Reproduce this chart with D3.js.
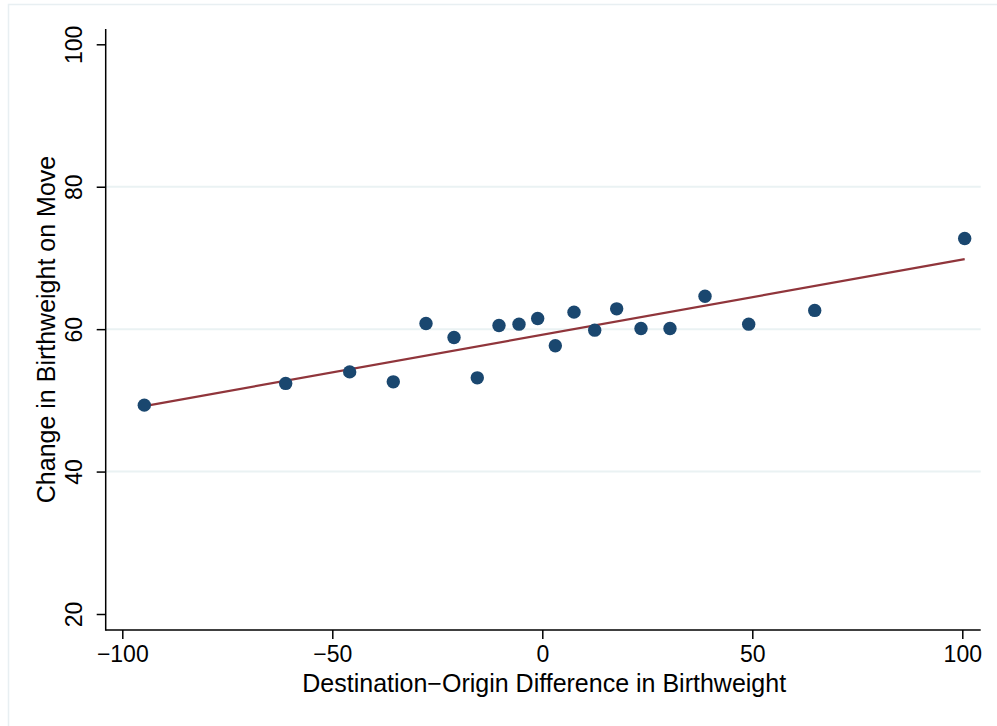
<!DOCTYPE html>
<html>
<head>
<meta charset="utf-8">
<script src="https://cdn.jsdelivr.net/npm/d3@7"></script>
<style>
  html, body { margin: 0; padding: 0; background: #fff; }
  svg { display: block; }
  text { font-family: "Liberation Sans", Arial, Helvetica, sans-serif; fill: #000; }
</style>
</head>
<body>
<svg id="chart" width="997" height="726"></svg>
<script>
// Binned scatter: destination−origin difference vs. change on move
const diffValues = [-94.76, -61.10, -45.86, -35.48, -27.69, -21.02, -15.48, -10.31, -5.55, -1.10,
                    3.10, 7.55, 12.48, 17.71, 23.50, 30.40, 38.74, 49.14, 64.86, 100.57];
const changeValues = [49.33, 52.38, 54.00, 52.60, 60.80, 58.83, 53.16, 60.52, 60.70, 61.50,
                      57.66, 62.39, 59.86, 62.85, 60.10, 60.10, 64.63, 60.70, 62.63, 72.73];
// linear fit estimated on the underlying (unbinned) observations
const fitIntercept = 59.21;
const fitSlope = 0.1057;
const xTicks = [-100, -50, 0, 50, 100];
const yTicks = [20, 40, 60, 80, 100];
const xTitle = "Destination\u2212Origin Difference in Birthweight";
const yTitle = "Change in Birthweight on Move";

const points = diffValues.map((d, i) => ({ x: d, y: changeValues[i] }));

// fit line drawn across the observed range of the bins
const [xMin, xMax] = d3.extent(diffValues);
const fitLine = [xMin, xMax].map(v => ({ x: v, y: fitIntercept + fitSlope * v }));

const svg = d3.select("#chart");

// faint outer frame of the graph region
svg.append("path")
  .attr("d", "M8.5,730 V4.5 H1000")
  .attr("fill", "none").attr("stroke", "#e8eff2").attr("stroke-width", 1.5);

const x = d3.scaleLinear().domain([-100, 100]).range([122.3, 962.3]);
const y = d3.scaleLinear().domain([20, 100]).range([614, 44.3]);

const plotLeft = 105.7, plotRight = 980.7, plotTop = 29, plotBottom = 630;

// horizontal gridlines
svg.append("g").selectAll("line")
  .data(yTicks.filter(t => t !== 20 && t !== 100))
  .join("line")
  .attr("x1", plotLeft).attr("x2", plotRight)
  .attr("y1", d => y(d)).attr("y2", d => y(d))
  .attr("stroke", "#eaf2f3").attr("stroke-width", 2);

// axes
const xAxis = d3.axisBottom(x).tickValues(xTicks).tickSize(9).tickSizeOuter(0)
  .tickFormat(d => d < 0 ? "\u2212" + Math.abs(d) : String(d));
const gx = svg.append("g").attr("transform", `translate(0,${plotBottom})`).call(xAxis);
gx.select(".domain").remove();
gx.selectAll(".tick line").attr("stroke", "#000").attr("stroke-width", 1.5);
gx.selectAll(".tick text").attr("y", 32).attr("dy", 0)
  .style("font-size", "23px").attr("font-family", null);

const yAxis = d3.axisLeft(y).tickValues(yTicks).tickSize(9).tickSizeOuter(0);
const gy = svg.append("g").attr("transform", `translate(${plotLeft},0)`).call(yAxis);
gy.select(".domain").remove();
gy.selectAll(".tick line").attr("stroke", "#000").attr("stroke-width", 1.5);
gy.selectAll(".tick text")
  .attr("x", null).attr("dy", null)
  .attr("transform", "translate(-24,0) rotate(-90)")
  .attr("text-anchor", "middle")
  .attr("y", 0)
  .style("font-size", "23px").attr("font-family", null);

svg.append("line")
  .attr("x1", plotLeft).attr("x2", plotRight)
  .attr("y1", plotBottom).attr("y2", plotBottom)
  .attr("stroke", "#000").attr("stroke-width", 1.5);
svg.append("line")
  .attr("x1", plotLeft).attr("x2", plotLeft)
  .attr("y1", plotTop).attr("y2", plotBottom + 0.75)
  .attr("stroke", "#000").attr("stroke-width", 1.5);

// fit line
svg.append("path")
  .datum(fitLine)
  .attr("d", d3.line().x(d => x(d.x)).y(d => y(d.y)))
  .attr("fill", "none").attr("stroke", "#90353b").attr("stroke-width", 2.2);

// markers
svg.append("g").selectAll("circle")
  .data(points)
  .join("circle")
  .attr("cx", d => x(d.x)).attr("cy", d => y(d.y))
  .attr("r", 6.7)
  .attr("fill", "#1a476f");

// axis titles
svg.append("text")
  .attr("x", (plotLeft + plotRight) / 2 + 1).attr("y", 692)
  .attr("text-anchor", "middle")
  .style("font-size", "25px")
  .text(xTitle);

svg.append("text")
  .attr("transform", `translate(55,${(plotTop + plotBottom) / 2}) rotate(-90)`)
  .attr("text-anchor", "middle")
  .style("font-size", "25px")
  .text(yTitle);
</script>
</body>
</html>
